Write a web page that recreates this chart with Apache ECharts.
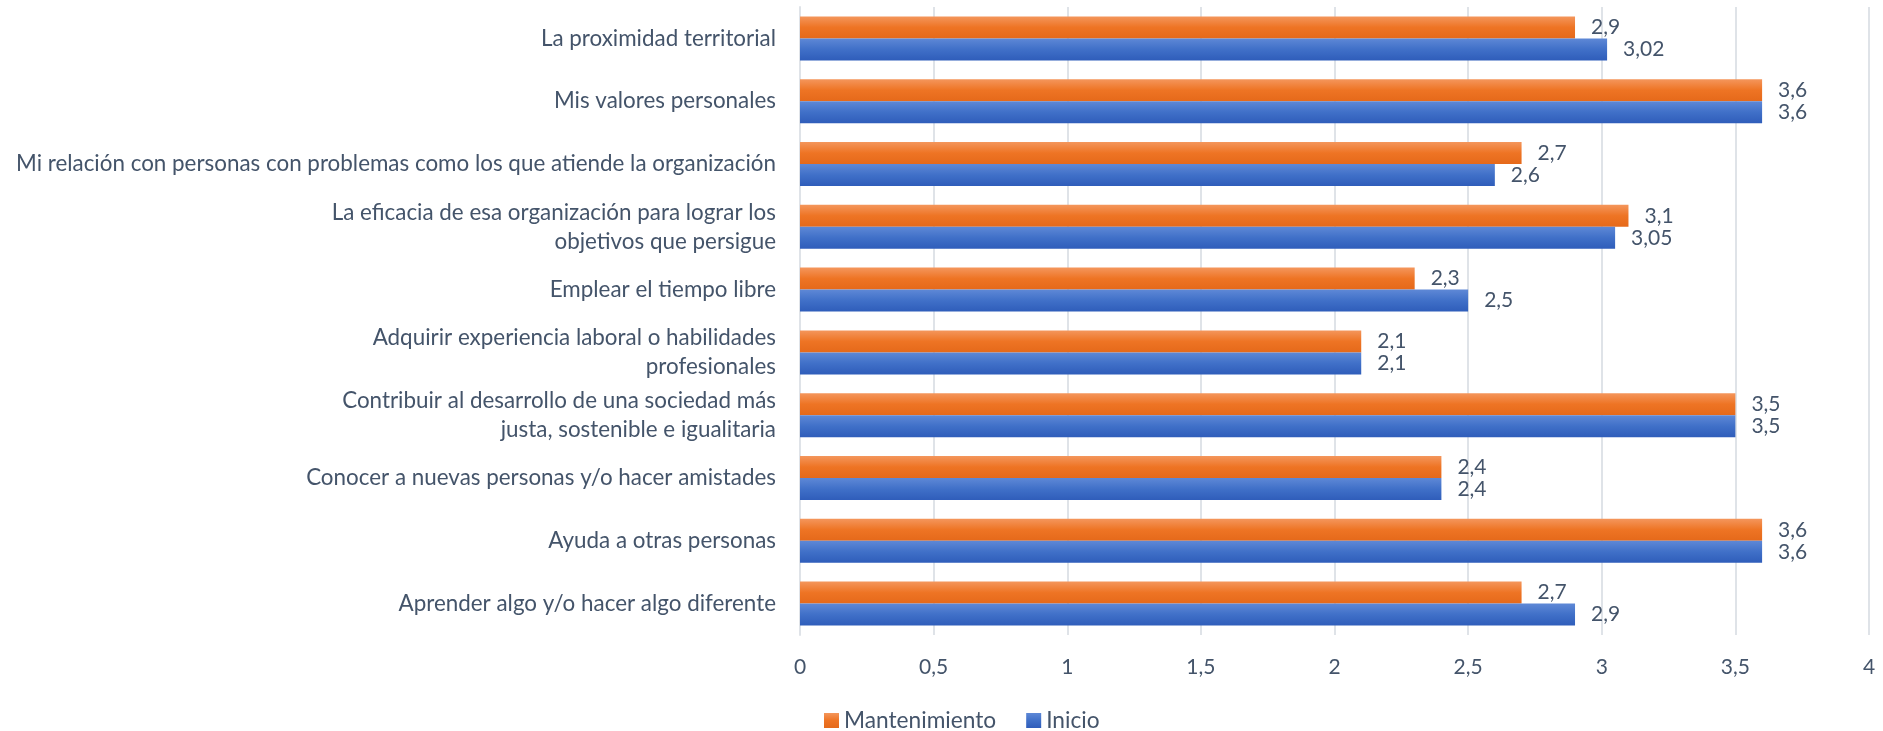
<!DOCTYPE html>
<html>
<head>
<meta charset="utf-8">
<script src="https://cdn.jsdelivr.net/npm/echarts@6/dist/echarts.min.js"></script>
<style>
  html, body { margin: 0; padding: 0; background: #fff; }
  #chart { width: 1883px; height: 731px; }
</style>
</head>
<body>
<div id="chart"></div>
<script>
  var categories = [
    'La proximidad territorial',
    'Mis valores personales',
    'Mi relación con personas con problemas como los que atiende la organización',
    'La eficacia de esa organización para lograr los\nobjetivos que persigue',
    'Emplear el tiempo libre',
    'Adquirir experiencia laboral o habilidades\nprofesionales',
    'Contribuir al desarrollo de una sociedad más\njusta, sostenible e igualitaria',
    'Conocer a nuevas personas y/o hacer amistades',
    'Ayuda a otras personas',
    'Aprender algo y/o hacer algo diferente'
  ];
  var mantenimiento = [2.9, 3.6, 2.7, 3.1, 2.3, 2.1, 3.5, 2.4, 3.6, 2.7];
  var inicio = [3.02, 3.6, 2.6, 3.05, 2.5, 2.1, 3.5, 2.4, 3.6, 2.9];

  var textColor = '#44546A';
  var font = 'Lato';

  function comma(v) {
    return String(v).replace('.', ',');
  }

  var orange = new echarts.graphic.LinearGradient(0, 0, 0, 1, [
    { offset: 0, color: '#F4965C' },
    { offset: 0.5, color: '#EE7424' },
    { offset: 1, color: '#E5691A' }
  ]);
  var blue = new echarts.graphic.LinearGradient(0, 0, 0, 1, [
    { offset: 0, color: '#5E88D6' },
    { offset: 0.5, color: '#4070C8' },
    { offset: 1, color: '#2F5DBA' }
  ]);

  var myChart = echarts.init(document.getElementById('chart'));
  myChart.setOption({
    animation: false,
    textStyle: { fontFamily: font, color: textColor },
    legend: {
      left: 819,
      top: 704,
      itemWidth: 15,
      itemHeight: 15,
      itemGap: 30,
      icon: 'rect',
      textStyle: { fontFamily: font, fontSize: 22.7, color: textColor },
      data: ['Mantenimiento', 'Inicio']
    },
    grid: {
      left: 800,
      right: 14,
      top: 7,
      bottom: 96,
      containLabel: false
    },
    xAxis: {
      type: 'value',
      min: 0,
      max: 4,
      interval: 0.5,
      axisLine: { show: false },
      axisTick: { show: false },
      splitLine: { lineStyle: { color: '#DFE3E8', width: 2 } },
      axisLabel: {
        margin: 22,
        fontSize: 21,
        fontFamily: font,
        color: textColor,
        formatter: function (v) { return comma(v); }
      }
    },
    yAxis: {
      type: 'category',
      inverse: true,
      data: categories,
      axisLine: { show: true, lineStyle: { color: '#DFE3E8', width: 2 } },
      axisTick: { show: false },
      axisLabel: {
        margin: 24,
        fontSize: 22.4,
        lineHeight: 29,
        fontFamily: font,
        color: textColor,
        align: 'right'
      }
    },
    series: [
      {
        name: 'Mantenimiento',
        type: 'bar',
        data: mantenimiento,
        barWidth: 22,
        barGap: '0%',
        itemStyle: { color: orange },
        label: {
          show: true,
          position: 'right',
          distance: 16,
          fontSize: 21,
          fontFamily: font,
          color: textColor,
          formatter: function (p) { return comma(p.value); }
        }
      },
      {
        name: 'Inicio',
        type: 'bar',
        data: inicio,
        barWidth: 22,
        barGap: '0%',
        itemStyle: { color: blue },
        label: {
          show: true,
          position: 'right',
          distance: 16,
          fontSize: 21,
          fontFamily: font,
          color: textColor,
          formatter: function (p) { return comma(p.value); }
        }
      }
    ]
  });
</script>
</body>
</html>
